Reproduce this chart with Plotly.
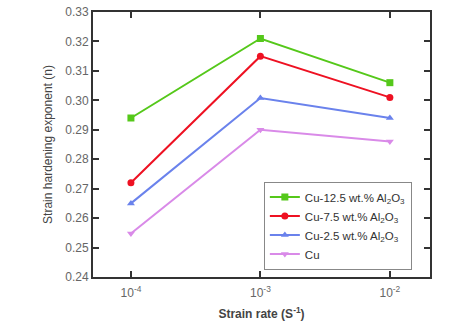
import plotly.graph_objects as go

strain_rate = [1e-4, 1e-3, 1e-2]
x_tick_labels = ["10<sup>-4</sup>", "10<sup>-3</sup>", "10<sup>-2</sup>"]
series_names = ["Cu-12.5 wt.% Al<sub>2</sub>O<sub>3</sub>",
                "Cu-7.5 wt.% Al<sub>2</sub>O<sub>3</sub>",
                "Cu-2.5 wt.% Al<sub>2</sub>O<sub>3</sub>",
                "Cu"]
n_cu125 = [0.294, 0.321, 0.306]
n_cu75 = [0.272, 0.315, 0.301]
n_cu25 = [0.265, 0.3008, 0.294]
n_cu = [0.2548, 0.290, 0.286]
y_ticks = [0.24, 0.25, 0.26, 0.27, 0.28, 0.29, 0.30, 0.31, 0.32, 0.33]

series = [n_cu125, n_cu75, n_cu25, n_cu]
colors = ["#55c81a", "#ee1122", "#6a82ec", "#d98ae8"]
symbols = ["square", "circle", "triangle-up", "triangle-down"]

fig = go.Figure()
for name, vals, c, s in zip(series_names, series, colors, symbols):
    fig.add_trace(go.Scatter(
        x=strain_rate, y=vals, name=name, mode="lines+markers",
        line=dict(color=c, width=2),
        marker=dict(symbol=s, size=7, color=c),
    ))

axis_common = dict(showline=True, linecolor="#333333", linewidth=2, mirror="ticks",
                   ticks="inside", ticklen=6, tickwidth=2, tickcolor="#333333",
                   showgrid=False, zeroline=False,
                   tickfont=dict(family="Liberation Sans, Arial", size=12, color="#666666"))

fig.update_layout(
    width=474, height=327,
    margin=dict(l=93, r=44, t=5, b=50),
    paper_bgcolor="white", plot_bgcolor="white",
    font=dict(family="Liberation Sans, Arial", color="#444444"),
    xaxis=dict(type="log", range=[-4.293, -1.69], tickvals=strain_rate,
               ticktext=x_tick_labels, ticklabelstandoff=4,
               title=dict(text="<b>Strain rate (S<sup>-1</sup>)</b>", standoff=10,
                          font=dict(size=12, color="#444444")),
               **axis_common),
    yaxis=dict(range=[0.24, 0.33], tickvals=y_ticks, tickformat=".2f",
               title=dict(text="Strain hardening exponent (n)", standoff=10,
                          font=dict(size=12, color="#444444")),
               **axis_common),
    legend=dict(x=0.507, y=0.36, xanchor="left", yanchor="top",
                bgcolor="white", bordercolor="#888888", borderwidth=1,
                font=dict(size=11.5, color="#333333"), tracegroupgap=0,
                itemwidth=30),
    showlegend=True,
)

fig.write_html("out.html")
